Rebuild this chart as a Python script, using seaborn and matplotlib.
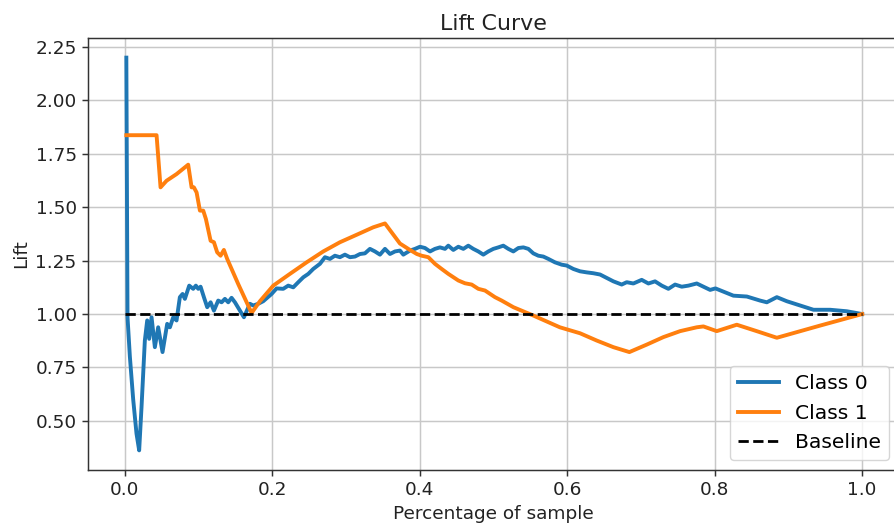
import matplotlib
matplotlib.use("Agg")
import matplotlib.pyplot as plt
import seaborn as sns

# Cumulative lift for each class versus the fraction of the sample taken
class0_pct = [0.002, 0.0036, 0.0068, 0.0113, 0.0158, 0.0194, 0.0226, 0.0258, 0.0271,
              0.0303, 0.0330, 0.0362, 0.0407, 0.0452, 0.0511, 0.0574, 0.0611, 0.0656,
              0.0701, 0.0746, 0.0783, 0.0814, 0.0873, 0.0927, 0.0963, 0.0995, 0.1027,
              0.1072, 0.1117, 0.1163, 0.1208, 0.1266, 0.1312, 0.1357, 0.1402, 0.1447,
              0.1493, 0.1547, 0.1615, 0.1696, 0.1741, 0.1809, 0.1877, 0.1990, 0.2058,
              0.2148, 0.2216, 0.2284, 0.2352, 0.2420, 0.2488, 0.2555, 0.2646, 0.2714,
              0.2782, 0.2849, 0.2917, 0.2985, 0.3053, 0.3121, 0.3189, 0.3256, 0.3324,
              0.3392, 0.3460, 0.3528, 0.3596, 0.3664, 0.3731, 0.3777, 0.3867, 0.3935,
              0.4003, 0.4071, 0.4139, 0.4206, 0.4274, 0.4342, 0.4387, 0.4455, 0.4523,
              0.4591, 0.4658, 0.4726, 0.4794, 0.4862, 0.4930, 0.4998, 0.5065, 0.5133,
              0.5201, 0.5269, 0.5337, 0.5405, 0.5473, 0.5540, 0.5608, 0.5676, 0.5744,
              0.5834, 0.5925, 0.5993, 0.6083, 0.6174, 0.6264, 0.6354, 0.6445, 0.6535,
              0.6626, 0.6739, 0.6807, 0.6897, 0.7010, 0.7101, 0.7191, 0.7282, 0.7372,
              0.7463, 0.7553, 0.7644, 0.7757, 0.7847, 0.7938, 0.8010, 0.8254, 0.8436,
              0.8616, 0.8707, 0.8843, 0.8978, 0.9159, 0.9340, 0.9566, 0.9792, 1.0]
class0_lift = [2.200, 0.985, 0.800, 0.600, 0.440, 0.362, 0.565, 0.783, 0.876,
               0.970, 0.884, 0.985, 0.845, 0.938, 0.822, 0.954, 0.938, 0.985,
               0.970, 1.079, 1.094, 1.071, 1.133, 1.118, 1.133, 1.118, 1.128,
               1.079, 1.032, 1.055, 1.016, 1.063, 1.055, 1.071, 1.055, 1.076,
               1.055, 1.024, 0.985, 1.048, 1.040, 1.048, 1.060, 1.094, 1.120,
               1.118, 1.133, 1.125, 1.149, 1.172, 1.188, 1.211, 1.235, 1.266,
               1.258, 1.273, 1.266, 1.278, 1.266, 1.269, 1.281, 1.284, 1.305,
               1.293, 1.278, 1.305, 1.281, 1.293, 1.297, 1.278, 1.297, 1.305,
               1.315, 1.309, 1.293, 1.305, 1.312, 1.305, 1.320, 1.300, 1.315,
               1.305, 1.320, 1.305, 1.293, 1.278, 1.293, 1.305, 1.312, 1.320,
               1.305, 1.293, 1.309, 1.312, 1.305, 1.284, 1.273, 1.269, 1.258,
               1.242, 1.231, 1.227, 1.211, 1.200, 1.195, 1.191, 1.185, 1.169,
               1.153, 1.138, 1.149, 1.143, 1.160, 1.143, 1.153, 1.133, 1.118,
               1.138, 1.128, 1.133, 1.143, 1.128, 1.113, 1.120, 1.086, 1.082,
               1.063, 1.055, 1.079, 1.060, 1.040, 1.020, 1.020, 1.013, 1.000]

class1_pct = [0.002, 0.043, 0.0484, 0.0566, 0.0701, 0.0859, 0.0905, 0.0936, 0.0973,
              0.1018, 0.1063, 0.1099, 0.1163, 0.1208, 0.1252, 0.1298, 0.1343, 0.1388,
              0.1538, 0.1719, 0.1832, 0.2013, 0.2239, 0.2465, 0.2691, 0.2917, 0.3144,
              0.3369, 0.3528, 0.3731, 0.3867, 0.3960, 0.4025, 0.4116, 0.4206, 0.4297,
              0.4387, 0.4523, 0.4613, 0.4704, 0.4794, 0.4885, 0.5020, 0.5111, 0.5270,
              0.5540, 0.5900, 0.6174, 0.6400, 0.6626, 0.6843, 0.7079, 0.7304, 0.7531,
              0.7757, 0.7847, 0.8028, 0.8300, 0.8570, 0.8843, 0.9430, 1.0]
class1_lift = [1.837, 1.837, 1.593, 1.624, 1.655, 1.699, 1.593, 1.593, 1.569,
               1.484, 1.484, 1.445, 1.343, 1.336, 1.289, 1.273, 1.300, 1.258,
               1.140, 1.005, 1.060, 1.133, 1.188, 1.242, 1.293, 1.336, 1.371,
               1.406, 1.424, 1.330, 1.300, 1.281, 1.273, 1.266, 1.235, 1.211,
               1.188, 1.157, 1.144, 1.138, 1.118, 1.110, 1.079, 1.063, 1.032,
               0.993, 0.938, 0.910, 0.876, 0.845, 0.822, 0.857, 0.892, 0.920,
               0.938, 0.942, 0.920, 0.950, 0.920, 0.889, 0.946, 1.000]

baseline_pct = [0.0, 1.0]
baseline_lift = [1.0, 1.0]

series_labels = ["Class 0", "Class 1", "Baseline"]

s = 1.33  # overall scale of fonts and strokes
plt.rcParams.update({
    "font.family": ["DejaVu Sans"],
    "font.size": 10 * s,
    "axes.linewidth": 0.8 * s,
    "axes.edgecolor": "#333333",
    "xtick.major.size": 3.5 * s,
    "ytick.major.size": 3.5 * s,
    "xtick.major.width": 0.8 * s,
    "ytick.major.width": 0.8 * s,
    "xtick.color": "#333333",
    "ytick.color": "#333333",
    "xtick.labelcolor": "#222222",
    "ytick.labelcolor": "#222222",
    "grid.color": "#c8c8c8",
    "grid.linewidth": 0.8 * s,
})

fig = plt.figure(figsize=(8.94, 5.27), dpi=100)
ax = fig.add_axes([88 / 894, 57 / 527, 811 / 894, 432 / 527])

sns.lineplot(x=class0_pct, y=class0_lift, ax=ax, color="#1f77b4", lw=2.8,
             label=series_labels[0], estimator=None, sort=False)
sns.lineplot(x=class1_pct, y=class1_lift, ax=ax, color="#ff7f0e", lw=2.8,
             label=series_labels[1], estimator=None, sort=False)
sns.lineplot(x=baseline_pct, y=baseline_lift, ax=ax, color="black", lw=2,
             linestyle="--", label=series_labels[2], estimator=None, sort=False)

ax.set_title("Lift Curve", fontsize=12 * s, color="#222222")
ax.set_xlabel("Percentage of sample", fontsize=10 * s, color="#222222")
ax.set_ylabel("Lift", fontsize=10 * s, color="#222222")
ax.grid(True, which="major")
ax.tick_params(labelsize=10 * s)
ax.legend(loc="lower right", fontsize=14.6)

fig.savefig("out.png", dpi=100)
